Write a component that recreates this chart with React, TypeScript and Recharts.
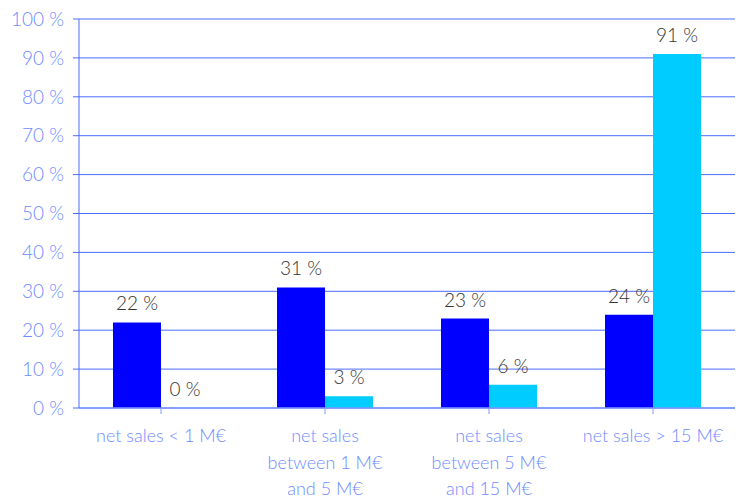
import React from "react";
import { BarChart, Bar, XAxis, YAxis, CartesianGrid, LabelList, Rectangle } from "recharts";

const categories = [
  "net sales < 1 M€",
  "net sales|between 1 M€|and 5 M€",
  "net sales|between 5 M€|and 15 M€",
  "net sales > 15 M€",
];
const seriesA = [22, 31, 23, 24];
const seriesB = [0, 3, 6, 91];
const yTicks = [0, 10, 20, 30, 40, 50, 60, 70, 80, 90, 100];

const data = categories.map((c, i) => ({ name: c, a: seriesA[i], b: seriesB[i] }));

const FONT = "Lato, 'DejaVu Sans', sans-serif";
const TICK_COLOR = "#6f8cff";
const LABEL_COLOR = "#333333";

const XTick = (props: any) => {
  const { x, y, payload } = props;
  const lines = String(payload.value).split("|");
  return (
    <text x={x} y={y} textAnchor="middle" fill={TICK_COLOR} fontFamily={FONT} fontWeight={300} fontSize={18}>
      {lines.map((l, i) => (
        <tspan key={i} x={x} dy={i === 0 ? 28 : 26.5}>
          {l}
        </tspan>
      ))}
    </text>
  );
};

const fmt = (v: any) => `${v} %`;

const TopLabel = (props: any) => {
  const { x, y, width, height, value } = props;
  const h = Number(value) === 0 ? 0 : Number(height || 0);
  const yy = Number(value) === 0 ? Number(y) + Number(height || 0) : Number(y);
  const top = Math.min(yy, yy + h);
  return (
    <text
      x={Number(x) + Number(width) / 2}
      y={top - 12}
      textAnchor="middle"
      fill={LABEL_COLOR}
      fontFamily={FONT}
      fontWeight={300}
      fontSize={19}
    >
      {fmt(value)}
    </text>
  );
};

const makeShape = (key: string) => (p: any) => {
  if (p.payload && Number(p.payload[key]) === 0) return <g />;
  return <Rectangle {...p} />;
};

export default function App() {
  return (
    <div style={{ position: "absolute", left: 0, top: 0, background: "#fff" }}>
      <BarChart
        width={746}
        height={500}
        data={data}
        margin={{ top: 19, right: 11, bottom: 0, left: 0 }}
        barCategoryGap={34}
        barGap={0}
      >
        <CartesianGrid vertical={false} stroke="#4a6cff" strokeWidth={1} />
        <XAxis
          dataKey="name"
          height={92}
          interval={0}
          tick={<XTick />}
          axisLine={{ stroke: "#7c98ff", strokeWidth: 1.5 }}
          tickLine={{ stroke: "#7c98ff" }}
          tickSize={6}
          tickMargin={0}
        />
        <YAxis
          width={79}
          domain={[0, 100]}
          ticks={yTicks}
          interval={0}
          tickFormatter={fmt}
          axisLine={{ stroke: "#4a6cff" }}
          tickLine={{ stroke: "#4a6cff" }}
          tickSize={6}
          tickMargin={9}
          tick={{ fill: TICK_COLOR, fontFamily: FONT, fontWeight: 300, fontSize: 19 }}
        />
        <Bar dataKey="a" fill="#0000ff" isAnimationActive={false} minPointSize={1} shape={makeShape("a")}>
          <LabelList dataKey="a" content={<TopLabel />} />
        </Bar>
        <Bar dataKey="b" fill="#00ccff" isAnimationActive={false} minPointSize={1} shape={makeShape("b")}>
          <LabelList dataKey="b" content={<TopLabel />} />
        </Bar>
      </BarChart>
    </div>
  );
}
